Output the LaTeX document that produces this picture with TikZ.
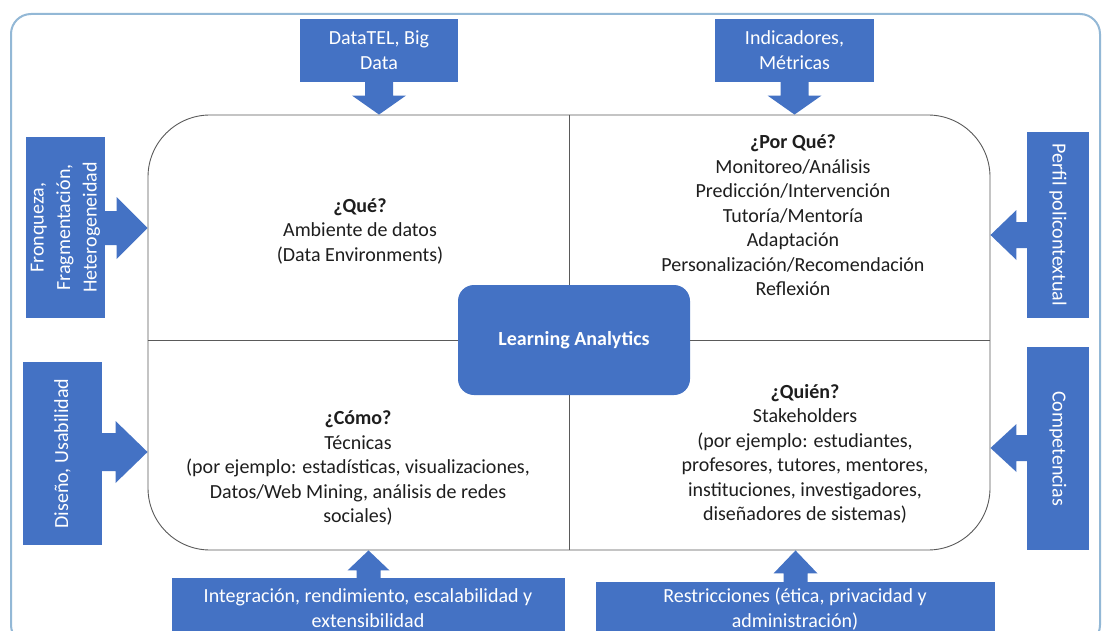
\documentclass[tikz,border=0pt]{standalone}
\usepackage{fontspec}
\setmainfont{Carlito}
\usetikzlibrary{calc}
\definecolor{bluebox}{HTML}{4472C4}
\definecolor{outerline}{HTML}{93B8D6}
\definecolor{framegray}{HTML}{5A5A5A}
\definecolor{txt}{HTML}{1E1E1E}
\begin{document}
\begin{tikzpicture}[x=1pt,y=-1pt,
  box/.style={fill=bluebox, text=white, inner sep=0pt, align=center, font=\fontsize{20}{25}\selectfont},
  lbl/.style={text=txt, align=center, font=\fontsize{20}{24.5}\selectfont, inner sep=0pt},
  arr/.style={fill=bluebox},
  divider/.style={draw=framegray, line width=0.9pt}]
\clip (0,0) rectangle (1102,631);
\fill[white] (0,0) rectangle (1102,631);
\draw[outerline, line width=2pt, rounded corners=20pt] (11,14) rectangle (1100,645);

% inner frame
\node[draw=framegray, line width=0.9pt, rounded corners=62pt, minimum width=842pt, minimum height=435pt, inner sep=0pt] (frame) at (569,332.5) {};

% central box
\node[fill=bluebox, rounded corners=16pt, minimum width=232pt, minimum height=110pt, inner sep=0pt, text=white, font=\fontsize{20}{24}\selectfont\bfseries] (la) at (574,340) {Learning Analytics};

% dividers
\draw[divider] (frame.north) -- (frame.north |- la.north);
\draw[divider] (frame.north |- la.south) -- (frame.south);
\draw[divider] (frame.west |- la.west) -- (la.west);
\draw[divider] (la.east) -- (frame.east |- la.east);

% quadrant texts
\node[lbl] (que) at (360,231) {\textbf{¿Qué?}\\Ambiente de datos\\(Data Environments)};
\node[lbl] (porque) at (793,215.5) {\textbf{¿Por Qué?}\\Monitoreo/Análisis\\Predicción/Intervención\\Tutoría/Mentoría\\Adaptación\\Personalización/Recomendación\\Reflexión};
\node[lbl] (como) at (358,468) {\textbf{¿Cómo?}\\Técnicas\\(por ejemplo: estadísticas, visualizaciones,\\Datos/Web Mining, análisis de redes\\sociales)};
\node[lbl] (quien) at (805,454) {\textbf{¿Quién?}\\Stakeholders\\(por ejemplo: estudiantes,\\profesores, tutores, mentores,\\instituciones, investigadores,\\diseñadores de sistemas)};

% outer boxes
\node[box, minimum width=158pt, minimum height=63pt] (dt) at (379,50.5) {DataTEL, Big\\Data};
\node[box, minimum width=159pt, minimum height=63pt] (ind) at (794.5,50.5) {Indicadores,\\Métricas};
\node[box, rotate=90, minimum width=181pt, minimum height=79pt, font=\fontsize{20}{26.5}\selectfont] (fr) at (65.5,227.5) {Fronqueza,\\Fragmentación,\\Heterogeneidad};
\node[box, rotate=90, minimum width=183pt, minimum height=79pt] (dis) at (62.5,453.5) {Diseño, Usabilidad};
\node[box, rotate=-90, minimum width=186pt, minimum height=62pt] (per) at (1058,225) {Perfil policontextual};
\node[box, rotate=-90, minimum width=203pt, minimum height=62pt] (comp) at (1058,448.5) {Competencias};
\node[box, minimum width=393pt, minimum height=60pt, anchor=north] (integ) at (368.5,578) {};
\node[box, minimum width=399pt, minimum height=60pt, anchor=north] (rest) at (795.5,582) {};
\node[box, fill=none, anchor=center] (integt) at (368,608) {Integración, rendimiento, escalabilidad y\\extensibilidad};
\node[box, fill=none, anchor=center] (restt) at (795,609.5) {Restricciones (ética, privacidad y\\administración)};

% tips
\coordinate (t1) at (dt.south |- frame.north);
\coordinate (t2) at (ind.south |- frame.north);
\coordinate (t3) at (frame.west |- 0,228);
\coordinate (t4) at (frame.west |- 0,452);
\coordinate (t5) at (frame.east |- 0,235);
\coordinate (t6) at (frame.east |- 0,448);
\coordinate (t7) at (integ.north |- frame.south);
\coordinate (t8) at (rest.north |- frame.south);

% block arrows (down)
\fill[arr] ($(dt.south)+(-14,-1)$) -- ($(t1)+(-14,-19)$) -- ($(t1)+(-27,-19)$) -- (t1) -- ($(t1)+(27,-19)$) -- ($(t1)+(14,-19)$) -- ($(dt.south)+(14,-1)$) -- cycle;
\fill[arr] ($(ind.south)+(-14,-1)$) -- ($(t2)+(-14,-19)$) -- ($(t2)+(-27,-19)$) -- (t2) -- ($(t2)+(27,-19)$) -- ($(t2)+(14,-19)$) -- ($(ind.south)+(14,-1)$) -- cycle;
% right-pointing
\fill[arr] ($(fr.south |- t3)+(-1,-17)$) -- ($(t3)+(-31,-17)$) -- ($(t3)+(-31,-31)$) -- (t3) -- ($(t3)+(-31,31)$) -- ($(t3)+(-31,17)$) -- ($(fr.south |- t3)+(-1,17)$) -- cycle;
\fill[arr] ($(dis.south |- t4)+(-1,-19)$) -- ($(t4)+(-32,-19)$) -- ($(t4)+(-32,-31)$) -- (t4) -- ($(t4)+(-32,31)$) -- ($(t4)+(-32,19)$) -- ($(dis.south |- t4)+(-1,19)$) -- cycle;
% left-pointing
\fill[arr] ($(per.south |- t5)+(1,-13)$) -- ($(t5)+(26,-13)$) -- ($(t5)+(26,-25)$) -- (t5) -- ($(t5)+(26,25)$) -- ($(t5)+(26,13)$) -- ($(per.south |- t5)+(1,13)$) -- cycle;
\fill[arr] ($(comp.south |- t6)+(1,-13)$) -- ($(t6)+(26,-13)$) -- ($(t6)+(26,-24)$) -- (t6) -- ($(t6)+(26,24)$) -- ($(t6)+(26,13)$) -- ($(comp.south |- t6)+(1,13)$) -- cycle;
% up
\fill[arr] ($(integ.north)+(-12,1)$) -- ($(t7)+(-12,20)$) -- ($(t7)+(-21,20)$) -- (t7) -- ($(t7)+(21,20)$) -- ($(t7)+(12,20)$) -- ($(integ.north)+(12,1)$) -- cycle;
\fill[arr] ($(rest.north)+(-12,1)$) -- ($(t8)+(-12,23)$) -- ($(t8)+(-22,23)$) -- (t8) -- ($(t8)+(22,23)$) -- ($(t8)+(12,23)$) -- ($(rest.north)+(12,1)$) -- cycle;
\end{tikzpicture}
\end{document}
